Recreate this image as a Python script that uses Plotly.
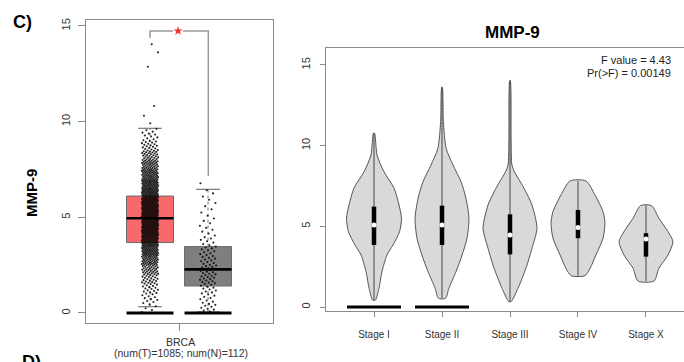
import numpy as np
import plotly.graph_objects as go

# ---------------- data ----------------
# Left panel: BRCA tumour vs normal expression (box stats)
box_groups = ["Tumor", "Normal"]
box_q1 = [3.68, 1.41]
box_median = [4.95, 2.28]
box_q3 = [6.11, 3.47]
box_whisker_low = [0.33, 0.05]
box_whisker_high = [9.65, 6.46]

# jittered points, summarised as counts per 0.5-wide bin
tumor_bin_starts = [0.0, 0.5, 1.0, 1.5, 2.0, 2.5, 3.0, 3.5, 4.0, 4.5,
                    5.0, 5.5, 6.0, 6.5, 7.0, 7.5, 8.0, 8.5, 9.0]
tumor_counts = [5, 10, 15, 22, 32, 45, 62, 78, 92, 100,
                100, 92, 80, 66, 52, 40, 28, 18, 10]
tumor_extra_points = [9.55, 9.63, 9.91, 10.31, 10.82, 12.87, 13.62, 14.04]

normal_bin_starts = [0.0, 0.5, 1.0, 1.5, 2.0, 2.5, 3.0, 3.5, 4.0, 4.5, 5.0, 5.5, 6.0]
normal_counts = [10, 8, 10, 14, 14, 11, 10, 7, 5, 4, 3, 3, 3]
normal_extra_points = [6.78]

# Right panel: violin plots by stage
stage_labels = ["Stage I", "Stage II", "Stage III", "Stage IV", "Stage X"]
stage_levels = [
    [0.43, 1.16, 2.19, 3.22, 3.84, 4.67, 5.50, 6.32, 7.36, 8.39, 9.42, 10.77],
    [0.54, 1.16, 2.19, 3.22, 4.26, 5.50, 6.74, 7.77, 8.80, 9.83, 11.49, 13.62],
    [0.33, 1.16, 2.40, 3.64, 4.88, 6.32, 7.36, 8.39, 8.80, 10.45, 14.03],
    [1.94, 2.40, 3.22, 4.26, 5.19, 5.91, 6.94, 7.81],
    [1.61, 2.40, 3.22, 4.05, 4.67, 5.50, 6.28],
]
stage_density = [
    [0.05, 0.18, 0.29, 0.47, 0.69, 0.93, 1.00, 0.91, 0.73, 0.36, 0.11, 0.02],
    [0.13, 0.25, 0.51, 0.73, 0.91, 0.98, 0.87, 0.69, 0.40, 0.15, 0.05, 0.01],
    [0.04, 0.29, 0.58, 0.80, 0.98, 0.80, 0.51, 0.16, 0.07, 0.04, 0.01],
    [0.25, 0.44, 0.65, 0.91, 0.98, 0.91, 0.62, 0.29],
    [0.29, 0.47, 0.80, 0.98, 0.80, 0.47, 0.20],
]
stage_q1 = [3.84, 3.84, 3.26, 4.26, 3.12]
stage_median = [5.08, 5.08, 4.46, 4.92, 4.21]
stage_q3 = [6.22, 6.28, 5.74, 6.01, 4.57]
stage_has_zero_bar = [True, True, False, False, False]

f_text = ["F value = 4.43", "Pr(>F) = 0.00149"]

# ---------------- figure geometry ----------------
W, H = 684, 362


def px(x):
    return x / W


def py(y):
    return 1 - y / H


TICK_COL = "#333333"
LINE_COL = "#8a8a8a"
FONT = "Liberation Sans, Arial, sans-serif"

fig = go.Figure()

# ---------- left panel ----------
centers = [-0.30, 0.30]
box_half = 0.243
cap_half = 0.122
jit = 0.085
colors = ["#F8696B", "#7F7F7F"]


def expand(starts, counts, extra):
    vals = []
    for s, n in zip(starts, counts):
        for k in range(n):
            vals.append(s + (k + 0.5) / n * 0.5)
    vals.extend(extra)
    return np.array(vals)


point_sets = [expand(tumor_bin_starts, tumor_counts, tumor_extra_points),
              expand(normal_bin_starts, normal_counts, normal_extra_points)]

for i in range(2):
    c = centers[i]
    fig.add_trace(go.Scatter(
        x=[c - box_half, c + box_half, c + box_half, c - box_half, c - box_half],
        y=[box_q1[i], box_q1[i], box_q3[i], box_q3[i], box_q1[i]],
        mode="lines", fill="toself", fillcolor=colors[i],
        line=dict(color="#6a6a6a", width=1), xaxis="x", yaxis="y", hoverinfo="skip"))
    for a, b in [(box_q3[i], box_whisker_high[i]), (box_whisker_low[i], box_q1[i])]:
        fig.add_trace(go.Scatter(x=[c, c], y=[a, b], mode="lines",
                                 line=dict(color="#777", width=1, dash="dot"),
                                 xaxis="x", yaxis="y", hoverinfo="skip"))
    for w in [box_whisker_high[i], box_whisker_low[i]]:
        fig.add_trace(go.Scatter(x=[c - cap_half, c + cap_half], y=[w, w], mode="lines",
                                 line=dict(color="#777", width=1.2),
                                 xaxis="x", yaxis="y", hoverinfo="skip"))

for i in range(2):
    c = centers[i]
    vals = point_sets[i]
    idx = np.arange(len(vals))
    xs = c + (((idx * 0.6180339887) % 1.0) - 0.5) * 2 * jit
    fig.add_trace(go.Scatter(x=xs, y=vals, mode="markers",
                             marker=dict(color="black", size=2.1, line=dict(width=0)),
                             opacity=0.85, xaxis="x", yaxis="y", hoverinfo="skip"))

for i in range(2):
    c = centers[i]
    fig.add_trace(go.Scatter(x=[c - box_half, c + box_half], y=[box_median[i]] * 2,
                             mode="lines", line=dict(color="black", width=2.6),
                             xaxis="x", yaxis="y", hoverinfo="skip"))
    fig.add_trace(go.Scatter(x=[c - box_half, c + box_half], y=[0, 0],
                             mode="lines", line=dict(color="black", width=3),
                             xaxis="x", yaxis="y", hoverinfo="skip"))

# significance bracket
br_top = 14.74
fig.add_trace(go.Scatter(x=[centers[0], centers[0], -0.062], y=[14.37, br_top, br_top],
                         mode="lines", line=dict(color="#999", width=1.5),
                         xaxis="x", yaxis="y", hoverinfo="skip"))
fig.add_trace(go.Scatter(x=[0.041, centers[1] + 0.003, centers[1] + 0.003], y=[br_top, br_top, 7.16],
                         mode="lines", line=dict(color="#999", width=1.5),
                         xaxis="x", yaxis="y", hoverinfo="skip"))
fig.add_trace(go.Scatter(x=[-0.01], y=[br_top], mode="markers",
                         marker=dict(symbol="star", size=7, color="#F03030", line=dict(width=0)),
                         xaxis="x", yaxis="y", hoverinfo="skip"))

# ---------- right panel ----------
HW = 27.5 / 68.0
for i, lab in enumerate(stage_labels):
    lv = np.array(stage_levels[i])
    d = np.array(stage_density[i]) * HW
    xs = np.concatenate([i + d, (i - d)[::-1], [i + d[0]]])
    ys = np.concatenate([lv, lv[::-1], [lv[0]]])
    fig.add_trace(go.Scatter(x=xs, y=ys, mode="lines", fill="toself", fillcolor="#D9D9D9",
                             line=dict(color="#555", width=1, shape="spline", smoothing=0.7),
                             xaxis="x2", yaxis="y2", hoverinfo="skip"))
    fig.add_trace(go.Scatter(x=[i, i], y=[lv[0], lv[-1]], mode="lines",
                             line=dict(color="#444", width=1),
                             xaxis="x2", yaxis="y2", hoverinfo="skip"))
    fig.add_trace(go.Scatter(x=[i, i], y=[stage_q1[i], stage_q3[i]], mode="lines",
                             line=dict(color="black", width=4.5),
                             xaxis="x2", yaxis="y2", hoverinfo="skip"))
    fig.add_trace(go.Scatter(x=[i], y=[stage_median[i]], mode="markers",
                             marker=dict(color="white", size=5, line=dict(width=0)),
                             xaxis="x2", yaxis="y2", hoverinfo="skip"))
    if stage_has_zero_bar[i]:
        fig.add_trace(go.Scatter(x=[i - 0.397, i + 0.397], y=[0, 0], mode="lines",
                                 line=dict(color="black", width=3),
                                 xaxis="x2", yaxis="y2", hoverinfo="skip"))

# ---------------- axes ----------------
fig.update_layout(
    template="none",
    width=W, height=H, autosize=False,
    margin=dict(l=0, r=0, t=0, b=0, pad=0),
    paper_bgcolor="white", plot_bgcolor="white",
    showlegend=False,
    hovermode=False,
    font=dict(family=FONT, color=TICK_COL),
    xaxis=dict(domain=[px(86), px(273)], range=[-0.962, 0.972], anchor="y",
               showgrid=False, zeroline=False, showline=True, mirror=True,
               linecolor=LINE_COL, linewidth=1.2, ticks="outside", ticklen=7,
               tickcolor=LINE_COL, tickvals=[0], showticklabels=False, automargin=False),
    yaxis=dict(domain=[py(323), py(20)], range=[-0.523, 15.31], anchor="x",
               showgrid=False, zeroline=False, showline=True, mirror=True,
               linecolor=LINE_COL, linewidth=1.2, ticks="outside", ticklen=7,
               tickcolor=LINE_COL, tickvals=[0, 5, 10, 15], tickangle=-90,
               tickfont=dict(size=11, color=TICK_COL), ticklabelstandoff=3, automargin=False),
    xaxis2=dict(domain=[px(326), 1.0], range=[-0.706, 4.559], anchor="y2",
                showgrid=False, zeroline=False, showline=True, mirror=True,
                linecolor=LINE_COL, linewidth=1.2, ticks="outside", ticklen=5,
                tickcolor=LINE_COL, tickvals=list(range(len(stage_labels))),
                ticktext=stage_labels, tickfont=dict(size=10, color=TICK_COL),
                ticklabelstandoff=9, automargin=False),
    yaxis2=dict(domain=[py(311), py(48)], range=[-0.248, 16.05], anchor="x2",
                showgrid=False, zeroline=False, showline=True, mirror=False,
                linecolor=LINE_COL, linewidth=1.2, ticks="outside", ticklen=5,
                tickcolor=LINE_COL, tickvals=[0, 5, 10, 15], tickangle=-90,
                tickfont=dict(size=11, color=TICK_COL), ticklabelstandoff=5, automargin=False),
)

ann = [
    dict(text="<b>C)</b>", x=px(22), y=py(22), font=dict(size=18, color="black", family=FONT)),
    dict(text="<b>D)</b>", x=px(31), y=py(350), yanchor="top",
         font=dict(size=18, color="black", family=FONT)),
    dict(text="<b>MMP-9</b>", x=px(31), y=py(193), textangle=-90,
         font=dict(size=15, color="black", family=FONT)),
    dict(text="<b>MMP-9</b>", x=px(512), y=py(32.5), font=dict(size=17, color="black", family=FONT)),
    dict(text=f_text[0], x=px(673), y=py(60), xanchor="right",
         font=dict(size=11, color="#222", family=FONT)),
    dict(text=f_text[1], x=px(673), y=py(73), xanchor="right",
         font=dict(size=11, color="#222", family=FONT)),
    dict(text="BRCA", x=px(180.5), y=py(342), font=dict(size=10.5, color=TICK_COL, family=FONT)),
    dict(text="(num(T)=1085; num(N)=112)", x=px(180.5), y=py(353),
         font=dict(size=10.5, color=TICK_COL, family=FONT)),
]
for a in ann:
    a.setdefault("xanchor", "center")
    a.setdefault("yanchor", "middle")
    fig.add_annotation(xref="paper", yref="paper", showarrow=False, **a)

fig.write_html("out.html",
               config={"displayModeBar": False, "staticPlot": True},
               post_script="document.body.style.margin='0';document.body.style.padding='0';"
                           "document.body.style.overflow='hidden';")
